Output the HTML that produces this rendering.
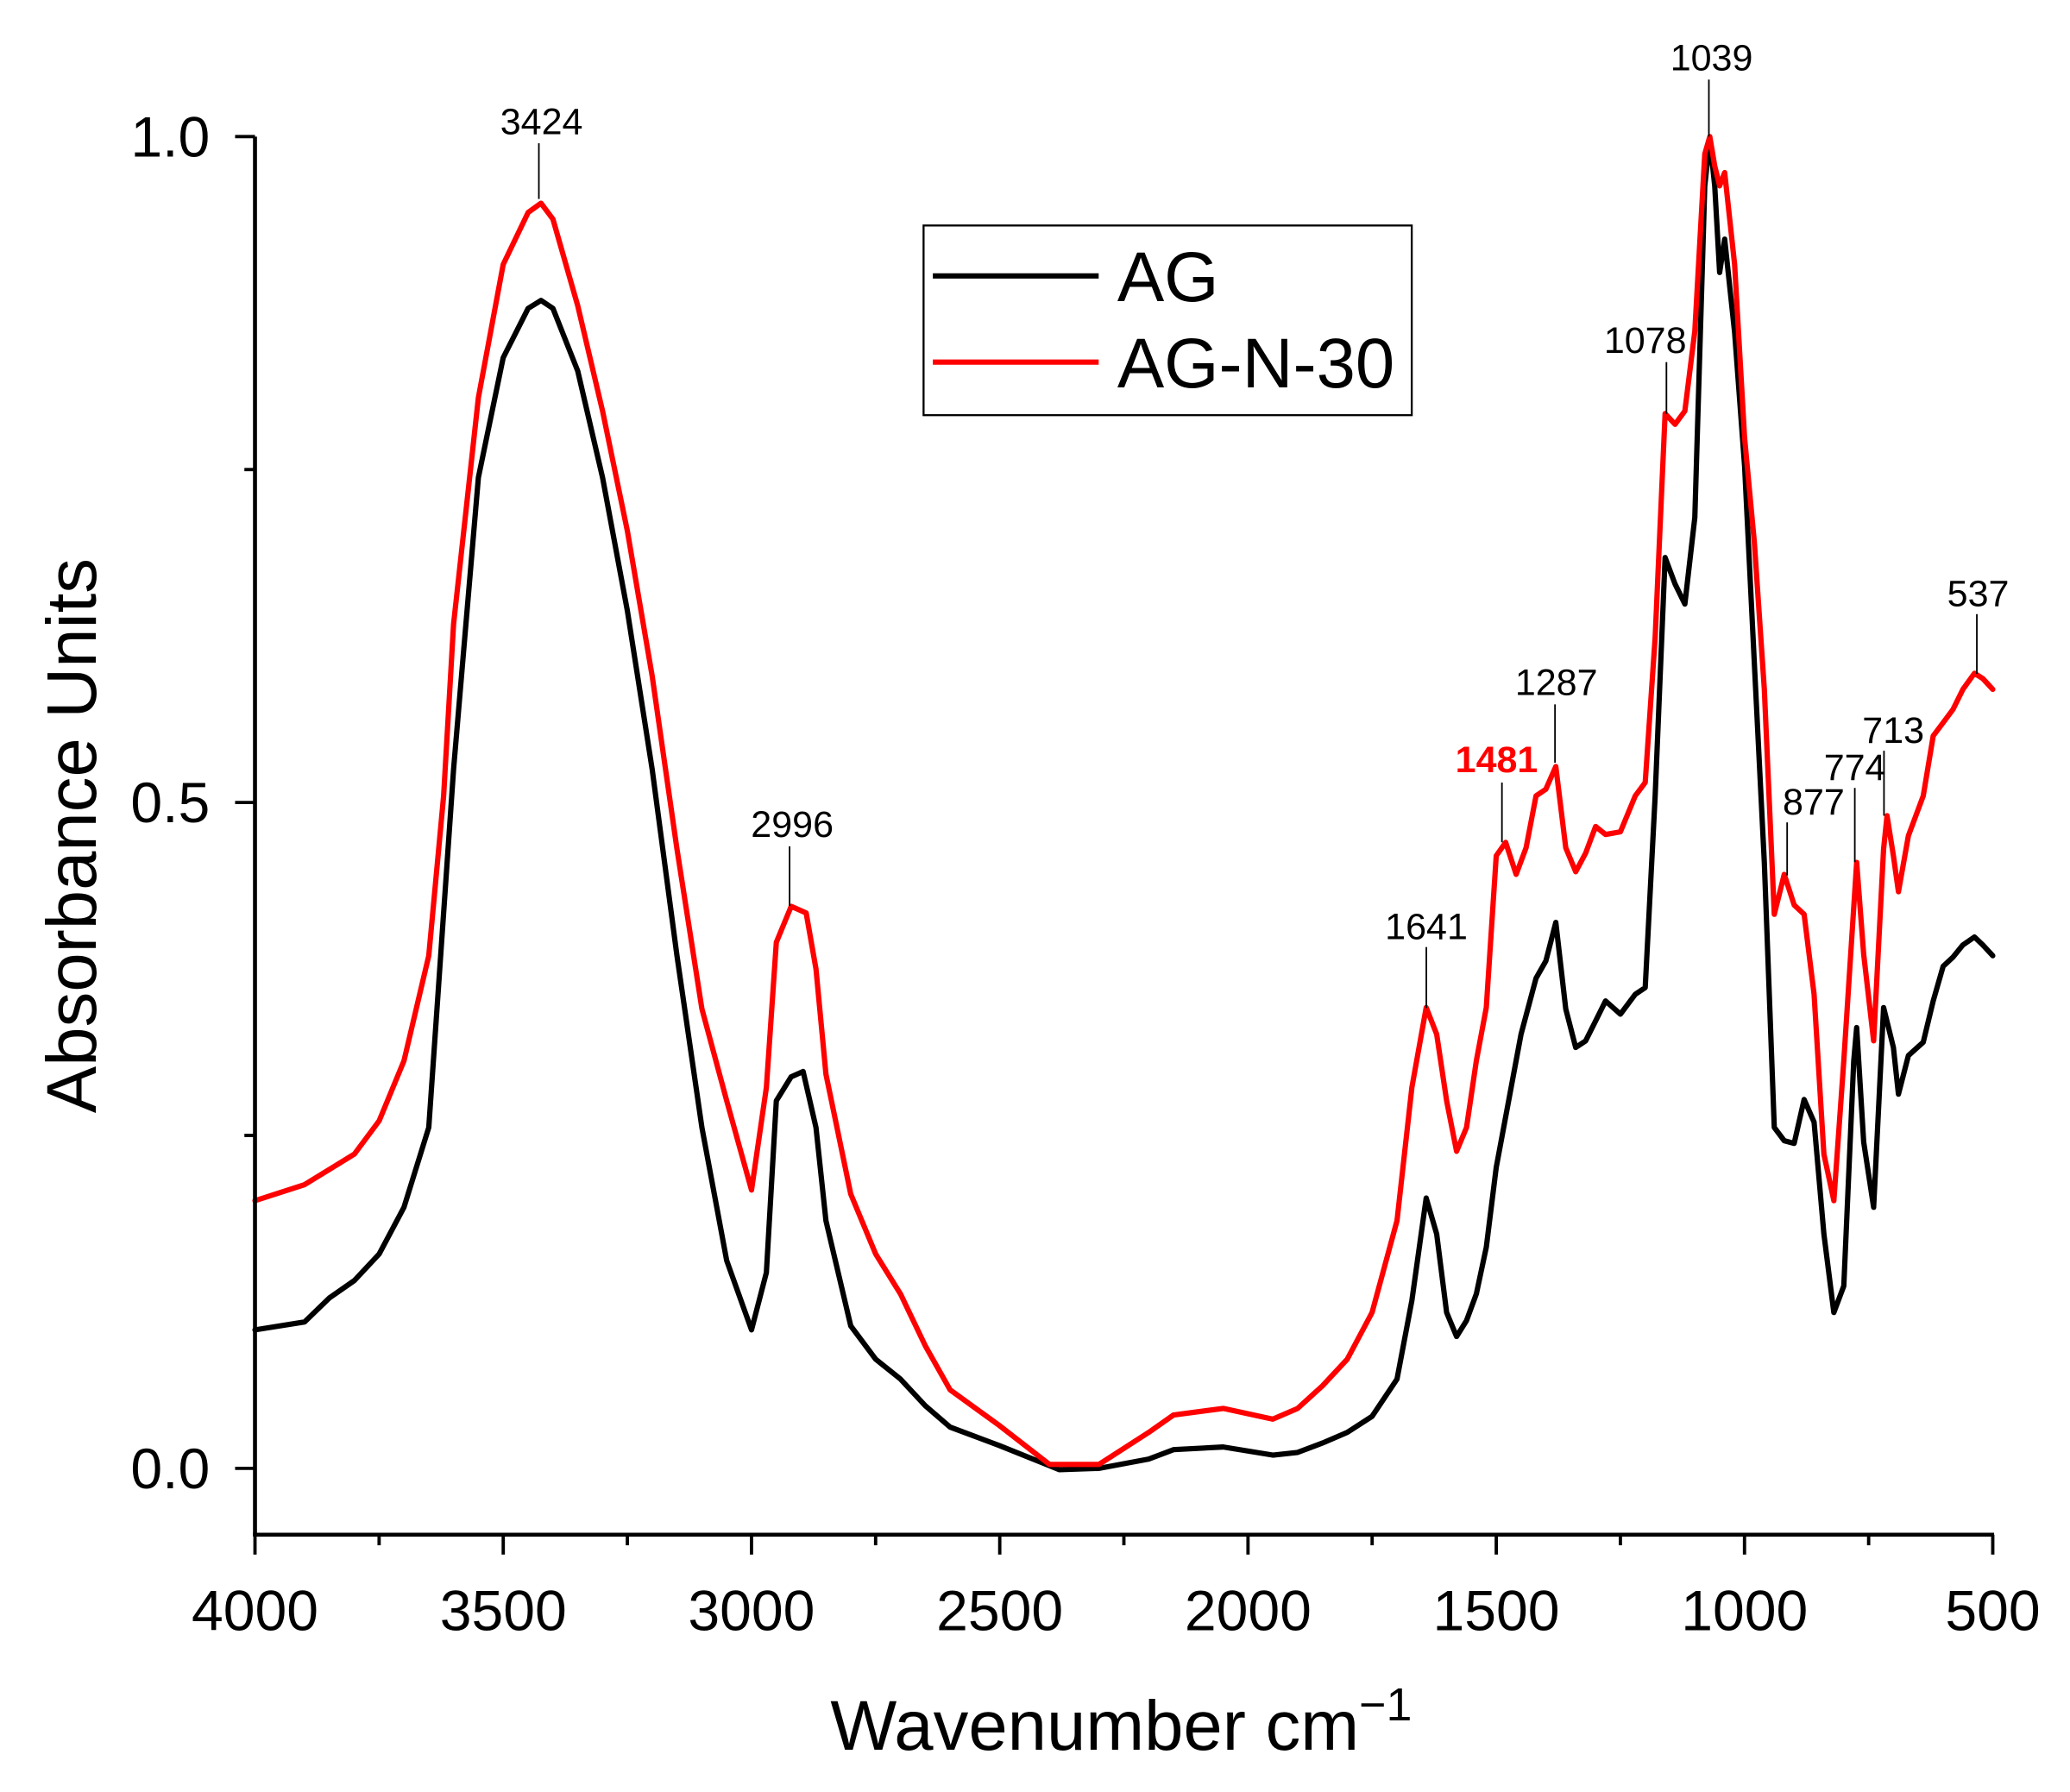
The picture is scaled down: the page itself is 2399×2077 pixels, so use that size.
<!DOCTYPE html>
<html><head><meta charset="utf-8"><style>
html,body{margin:0;padding:0;background:#fff;}
svg{display:block;font-family:"Liberation Sans",Arial,sans-serif;}
</style></head>
<body>
<svg id="chart" width="2399" height="2077" viewBox="0 0 1560 1351" xmlns="http://www.w3.org/2000/svg">
<rect x="0" y="0" width="1560" height="1351" fill="#fff"/>
<g id="plot"></g>
</svg>
<script>
const xTicks = [4000,3500,3000,2500,2000,1500,1000,500];
const yTicks = [0.0,0.5,1.0];
const yTickLabels = ["0.0","0.5","1.0"];
const agWn = [4000,3900,3850,3800,3750,3700,3650,3600,3550,3500,3450,3424,3400,3350,3300,3250,3200,3150,3100,3050,3000,2970,2950,2920,2896,2870,2850,2800,2750,2700,2650,2600,2500,2400,2380,2300,2200,2150,2050,1950,1900,1850,1800,1750,1700,1670,1641,1620,1600,1580,1560,1540,1520,1500,1480,1450,1420,1400,1380,1360,1340,1320,1300,1280,1250,1220,1200,1180,1160,1140,1120,1100,1080,1070,1060,1050,1040,1020,1000,980,960,940,920,900,880,860,840,820,800,780,774,760,740,720,700,690,670,640,620,600,580,560,537,520,500];
const agAbs = [0.104,0.11,0.128,0.141,0.161,0.196,0.256,0.525,0.744,0.834,0.871,0.877,0.871,0.824,0.744,0.644,0.525,0.385,0.256,0.156,0.104,0.147,0.276,0.294,0.298,0.256,0.186,0.107,0.082,0.067,0.047,0.031,0.017,0.002,-0.001,0.0,0.007,0.014,0.016,0.01,0.012,0.019,0.027,0.039,0.067,0.126,0.203,0.176,0.117,0.099,0.111,0.131,0.166,0.226,0.266,0.326,0.368,0.381,0.41,0.345,0.316,0.321,0.336,0.351,0.341,0.356,0.361,0.505,0.684,0.664,0.649,0.714,0.963,0.998,0.963,0.898,0.923,0.853,0.753,0.604,0.455,0.256,0.246,0.244,0.277,0.26,0.176,0.117,0.137,0.306,0.331,0.245,0.196,0.346,0.316,0.281,0.31,0.32,0.351,0.377,0.384,0.393,0.399,0.393,0.385];
const agnWn = [4000,3900,3800,3750,3700,3650,3620,3600,3550,3500,3450,3424,3400,3350,3300,3250,3200,3150,3100,3050,3000,2970,2950,2920,2890,2870,2850,2800,2750,2700,2650,2600,2500,2400,2300,2200,2150,2050,1950,1900,1850,1800,1750,1700,1670,1641,1620,1600,1580,1560,1540,1520,1500,1481,1460,1440,1420,1400,1380,1360,1340,1320,1300,1280,1250,1220,1200,1180,1160,1140,1120,1100,1080,1070,1060,1050,1040,1020,1000,980,960,940,920,900,880,860,840,820,800,774,760,740,720,713,700,690,670,640,620,600,580,560,537,520,500];
const agnAbs = [0.201,0.213,0.236,0.261,0.306,0.385,0.505,0.634,0.804,0.904,0.943,0.95,0.938,0.873,0.794,0.704,0.595,0.465,0.345,0.276,0.209,0.286,0.395,0.422,0.417,0.375,0.296,0.206,0.161,0.131,0.092,0.059,0.032,0.003,0.003,0.027,0.04,0.045,0.037,0.045,0.062,0.082,0.117,0.186,0.286,0.346,0.326,0.276,0.238,0.256,0.306,0.346,0.46,0.47,0.446,0.466,0.505,0.51,0.527,0.466,0.448,0.462,0.482,0.476,0.478,0.505,0.515,0.624,0.792,0.784,0.794,0.854,0.987,1.0,0.978,0.963,0.973,0.904,0.774,0.695,0.585,0.416,0.446,0.423,0.416,0.356,0.236,0.201,0.306,0.455,0.386,0.321,0.465,0.49,0.46,0.433,0.475,0.505,0.55,0.56,0.57,0.585,0.597,0.593,0.585];
const peakLabels = ["3424","2996","1641","1481","1287","1078","1039","877","774","713","537"];

const NS="http://www.w3.org/2000/svg";
const X0=192,X1=1502,Y0=1107,Y1=103;
function xs(w){return X0+(4000-w)/3500*(X1-X0);}
function ys(v){return Y0-v*(Y0-Y1);}
const g=document.getElementById('plot');
function mk(t,a,p){const e=document.createElementNS(NS,t);for(const k in a)e.setAttribute(k,a[k]);(p||g).appendChild(e);return e;}

function series(wn,ab,color,name){
  const d=wn.map((w,i)=>(i?'L':'M')+xs(w).toFixed(1)+' '+ys(ab[i]).toFixed(1)).join(' ');
  const p=mk('path',{d:d,fill:'none',stroke:color,'stroke-width':4,'stroke-linejoin':'round','stroke-linecap':'round'});
  
  
}
series(agWn,agAbs,'#000','series-ag');
series(agnWn,agnAbs,'#ff0000','series-ag-n-30');

const ax=mk('line',{x1:X0,y1:Y1,x2:X0,y2:1158,stroke:'#000','stroke-width':3});


const bx=mk('line',{x1:X0-1.5,y1:1157,x2:X1+1,y2:1157,stroke:'#000','stroke-width':3});


xTicks.forEach(w=>{
  mk('line',{x1:xs(w),y1:1157,x2:xs(w),y2:1172,stroke:'#000','stroke-width':2.5});
  const t=mk('text',{x:xs(w),y:1229,'font-size':43,'text-anchor':'middle'});
  t.textContent=w;
  
  
  if(w>500) mk('line',{x1:xs(w-250),y1:1157,x2:xs(w-250),y2:1165,stroke:'#000','stroke-width':2.5});
});
yTicks.forEach((v,i)=>{
  mk('line',{x1:X0,y1:ys(v),x2:X0-15,y2:ys(v),stroke:'#000','stroke-width':2.5});
  const t=mk('text',{x:158,y:ys(v)+15,'font-size':43,'text-anchor':'end'});
  t.textContent=yTickLabels[i];
  
  
  if(v<1) mk('line',{x1:X0,y1:ys(v+0.25),x2:X0-8,y2:ys(v+0.25),stroke:'#000','stroke-width':2.5});
});
const xt=mk('text',{x:845,y:1319,'font-size':53,'text-anchor':'middle'});
xt.innerHTML='Wavenumber cm<tspan dy="-22" font-size="35">−1</tspan>';


const yt=mk('text',{x:0,y:0,'font-size':53,'text-anchor':'middle',transform:'translate(72,630) rotate(-90)'});
yt.textContent='Absorbance Units';



const ann=[[0,408,101,406,108,150,'#000'],[1,597,631,595,638,683,'#000'],[2,1075,708,1075,714,760,'#000'],[3,1128,582,1132,590,635,'#ff0000'],[4,1173,524,1172,531,575,'#000'],[5,1240,266,1256,273,312,'#000'],[6,1290,53,1288,60,103,'#000'],[7,1367,614,1347,620,660,'#000'],[8,1398,588,1398,594,650,'#000'],[9,1427,560,1420,566,615,'#000'],[10,1491,457,1490,463,508,'#000']];
ann.forEach(a=>{
  mk('line',{x1:a[3],y1:a[4],x2:a[3],y2:a[5],stroke:'#000','stroke-width':1.2});
  const t=mk('text',{x:a[1],y:a[2],'font-size':28,'text-anchor':'middle',fill:a[6],'font-weight':a[6]=='#000'?'normal':'bold'});
  t.textContent=peakLabels[a[0]];
  
  
});

const lg=mk('g',{});


mk('rect',{x:696,y:170,width:368,height:143,fill:'#fff',stroke:'#000','stroke-width':1.5},lg);
[['AG','#000',208],['AG-N-30','#ff0000',273]].forEach(e=>{
  const en=mk('g',{},lg);
  
  
  mk('line',{x1:703,y1:e[2],x2:828,y2:e[2],stroke:e[1],'stroke-width':4},en);
  const t=mk('text',{x:842,y:e[2]+19,'font-size':53},en);
  t.textContent=e[0];
});
</script>
</body></html>
